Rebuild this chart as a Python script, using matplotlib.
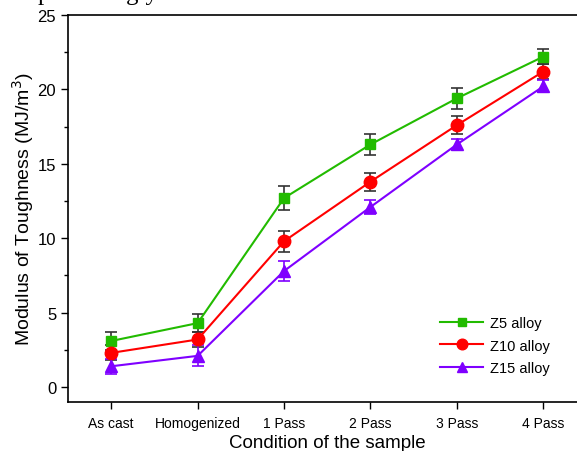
import numpy as np
import matplotlib.pyplot as plt
from matplotlib.ticker import MultipleLocator

conditions = ["As cast", "Homogenized", "1 Pass", "2 Pass", "3 Pass", "4 Pass"]

z5 = [3.1, 4.3, 12.7, 16.3, 19.4, 22.2]
z5_err = [0.6, 0.6, 0.8, 0.7, 0.7, 0.5]
z10 = [2.3, 3.2, 9.8, 13.8, 17.6, 21.2]
z10_err = [0.5, 0.5, 0.7, 0.6, 0.6, 0.5]
z15 = [1.4, 2.1, 7.8, 12.1, 16.3, 20.2]
z15_err = [0.5, 0.7, 0.7, 0.5, 0.4, 0.4]

plt.rcParams['font.family'] = ['Liberation Sans', 'DejaVu Sans']

fig = plt.figure(figsize=(5.77, 4.52), dpi=100)
ax = fig.add_axes([0.1179, 0.1084, 0.8985, 0.8562])

x = np.arange(len(conditions))

c5 = ax.errorbar(x, z5, yerr=z5_err, color='#22bb00', ecolor='#333333', elinewidth=1.2,
                 capsize=4, capthick=1.2, marker='s', markersize=7, lw=1.5, label='Z5 alloy')
c10 = ax.errorbar(x, z10, yerr=z10_err, color='#ff0000', ecolor='#333333', elinewidth=1.2,
                  capsize=4, capthick=1.2, marker='o', markersize=9, lw=1.5, label='Z10 alloy')
c15 = ax.errorbar(x, z15, yerr=z15_err, color='#7f00ff', ecolor='#7f00ff', elinewidth=1.2,
                  capsize=4, capthick=1.2, marker='^', markersize=9, lw=1.5, label='Z15 alloy')

ax.set_xlim(-0.5, 5.5)
ax.set_ylim(-1, 25)
ax.set_xticks(x)
ax.set_xticklabels(conditions, fontsize=10)
ax.yaxis.set_major_locator(MultipleLocator(5))
ax.yaxis.set_minor_locator(MultipleLocator(2.5))
ax.tick_params(axis='y', labelsize=12, direction='out', length=5, width=1)
ax.tick_params(axis='y', which='minor', length=3, width=1)
ax.tick_params(axis='x', direction='out', length=5, width=1, pad=5)
for s in ax.spines.values():
    s.set_linewidth(1.2)

ax.set_xlabel("Condition of the sample", fontsize=13.5, labelpad=3)
ax.set_ylabel("Modulus of Toughness (MJ/m$^3$)", fontsize=14, labelpad=1)

# legend without the error bars, only line + marker
ax.legend(handles=[c5[0], c10[0], c15[0]], labels=['Z5 alloy', 'Z10 alloy', 'Z15 alloy'],
          loc='upper left', bbox_to_anchor=(440 / 577, 0.299), bbox_transform=fig.transFigure,
          frameon=False, fontsize=10.5, borderpad=0, borderaxespad=0,
          handlelength=2.95, handletextpad=0.5, labelspacing=0.6, markerscale=0.85)

fig.text(38 / 577, 1.0, "promisingly", fontsize=18, family='Liberation Serif', va='baseline')

fig.savefig("out.png", dpi=100)
